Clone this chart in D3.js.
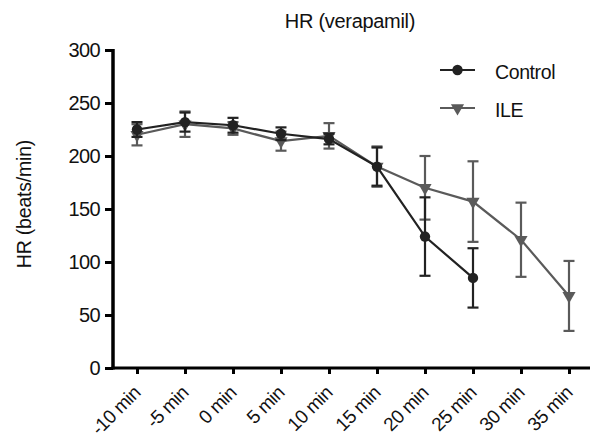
<!DOCTYPE html>
<html>
<head>
<meta charset="utf-8">
<title>HR (verapamil)</title>
<style>
  body { margin: 0; background: #fff; }
  text { font-family: "Liberation Sans", Arial, sans-serif; }
</style>
</head>
<body>
<div id="chart"></div>
<script src="https://d3js.org/d3.v7.min.js"></script>
<script>
// data
var timeLabels = ['-10 min', '-5 min', '0 min', '5 min', '10 min', '15 min', '20 min', '25 min', '30 min', '35 min'];
var controlMean = [225, 232, 229, 221, 216, 190, 124, 85];
var controlErr  = [7, 9, 7, 6, 5, 18, 37, 28];
var ileMean = [220, 230, 226, 214, 219, 190, 170, 157, 121, 68];
var ileErr  = [10, 12, 6, 9, 12, 19, 30, 38, 35, 33];
var yTicks = [0, 50, 100, 150, 200, 250, 300];

var width = 596, height = 442;
var svg = d3.select('#chart').append('svg')
  .attr('width', width).attr('height', height);

// x scale: one point per time label
var x = d3.scalePoint().domain(timeLabels).range([137, 569]);
var y = d3.scaleLinear().domain([0, 300]).range([368, 50]);

// title
svg.append('text').attr('x', 350).attr('y', 28)
  .attr('text-anchor', 'middle').attr('font-size', 20).attr('fill', '#111')
  .attr('letter-spacing', -0.3)
  .text('HR (verapamil)');

// y axis label
svg.append('text')
  .attr('transform', 'translate(31,204) rotate(-90)')
  .attr('text-anchor', 'middle').attr('font-size', 19.5).attr('fill', '#111')
  .attr('letter-spacing', -0.2)
  .text('HR (beats/min)');

// y axis
var yAxis = svg.append('g').attr('transform', 'translate(113,0)')
  .call(d3.axisLeft(y).tickValues(yTicks).tickSize(8).tickSizeOuter(0).tickPadding(5));
yAxis.select('.domain').attr('stroke', '#000').attr('stroke-width', 3.5)
  .attr('d', 'M0,' + (y(300) - 1) + 'V' + (y(0) + 1.5));
yAxis.selectAll('.tick line').attr('stroke', '#000').attr('stroke-width', 3);
yAxis.selectAll('.tick text').attr('font-size', 20).attr('fill', '#111')
  .attr('font-family', '"Liberation Sans", Arial, sans-serif').attr('letter-spacing', -0.6);

// x axis
var xAxis = svg.append('g').attr('transform', 'translate(0,368)')
  .call(d3.axisBottom(x).tickSize(6).tickSizeOuter(0));
xAxis.select('.domain').attr('stroke', '#000').attr('stroke-width', 3)
  .attr('d', 'M111.5,0H590');
xAxis.selectAll('.tick line').attr('stroke', '#000').attr('stroke-width', 3);
xAxis.selectAll('.tick text').attr('font-size', 19).attr('fill', '#111')
  .attr('font-family', '"Liberation Sans", Arial, sans-serif')
  .attr('text-anchor', 'end')
  .attr('letter-spacing', -0.5)
  .attr('y', 0).attr('dy', 0)
  .attr('transform', 'translate(4,26) rotate(-45)');

// series drawing
function drawSeries(means, errs, color, shape) {
  var pts = means.map(function(m, i) { return { t: timeLabels[i], m: m, e: errs[i] }; });
  var g = svg.append('g');

  // error bars
  var eb = g.selectAll('.eb').data(pts).enter().append('g');
  eb.append('line')
    .attr('x1', function(d) { return x(d.t); }).attr('x2', function(d) { return x(d.t); })
    .attr('y1', function(d) { return y(d.m + d.e); }).attr('y2', function(d) { return y(d.m - d.e); })
    .attr('stroke', color).attr('stroke-width', 2.2);
  [1, -1].forEach(function(s) {
    eb.append('line')
      .attr('x1', function(d) { return x(d.t) - 5.5; }).attr('x2', function(d) { return x(d.t) + 5.5; })
      .attr('y1', function(d) { return y(d.m + s * d.e); }).attr('y2', function(d) { return y(d.m + s * d.e); })
      .attr('stroke', color).attr('stroke-width', 2.2);
  });

  // line
  var line = d3.line().x(function(d) { return x(d.t); }).y(function(d) { return y(d.m); });
  g.append('path').datum(pts).attr('d', line)
    .attr('fill', 'none').attr('stroke', color).attr('stroke-width', 2.2);

  // markers
  g.selectAll('.mk').data(pts).enter().append('path')
    .attr('transform', function(d) { return 'translate(' + x(d.t) + ',' + y(d.m) + ')' + (shape === 'tri' ? ' rotate(180)' : ''); })
    .attr('d', d3.symbol().type(shape === 'tri' ? d3.symbolTriangle : d3.symbolCircle).size(shape === 'tri' ? 75 : 85))
    .attr('fill', color);
}

drawSeries(ileMean, ileErr, '#5a5a5a', 'tri');
drawSeries(controlMean, controlErr, '#222', 'circle');

// legend
var legend = [
  { name: 'Control', color: '#222', shape: 'circle', y: 70 },
  { name: 'ILE', color: '#5a5a5a', shape: 'tri', y: 108 }
];
var lg = svg.selectAll('.lg').data(legend).enter().append('g');
lg.append('line').attr('x1', 440).attr('x2', 475)
  .attr('y1', function(d) { return d.y; }).attr('y2', function(d) { return d.y; })
  .attr('stroke', function(d) { return d.color; }).attr('stroke-width', 2.2);
lg.append('path')
  .attr('transform', function(d) { return 'translate(457.5,' + d.y + ')' + (d.shape === 'tri' ? ' rotate(180)' : ''); })
  .attr('d', function(d) { return d3.symbol().type(d.shape === 'tri' ? d3.symbolTriangle : d3.symbolCircle).size(d.shape === 'tri' ? 75 : 85)(); })
  .attr('fill', function(d) { return d.color; });
lg.append('text').attr('x', 495).attr('y', function(d) { return d.y + 8.5; })
  .attr('font-size', 19.5).attr('fill', '#111').attr('letter-spacing', -0.4)
  .text(function(d) { return d.name; });
</script>
</body>
</html>
